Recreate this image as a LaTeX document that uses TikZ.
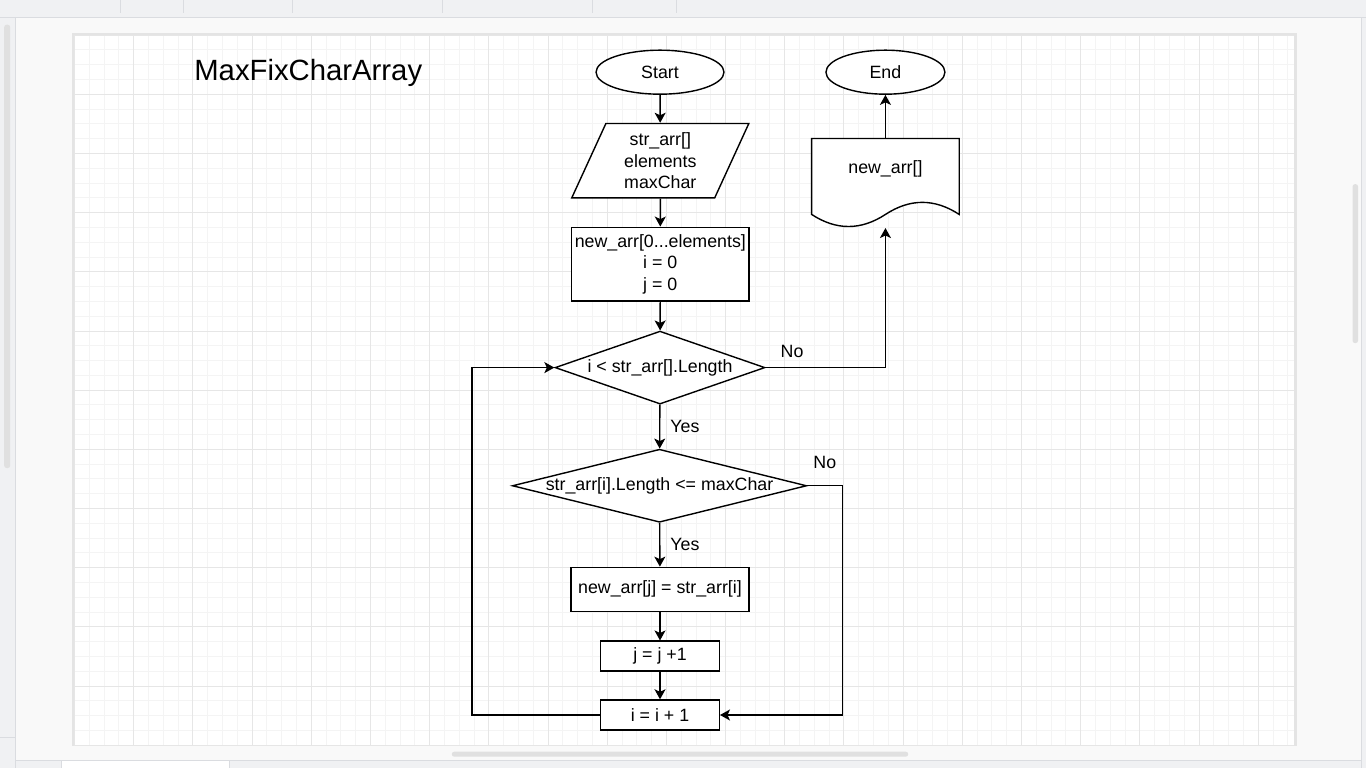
\documentclass[tikz,border=0pt]{standalone}
\usepackage{fontspec}
\setmainfont{Liberation Sans}
\usetikzlibrary{arrows.meta, positioning, shapes.geometric}

\definecolor{uibg}{HTML}{F0F1F3}
\definecolor{uiline}{HTML}{DADCE0}
\definecolor{canvasbg}{HTML}{F9F9F9}
\definecolor{scrollbar}{HTML}{E0E0E0}
\definecolor{pageshadow}{HTML}{E4E4E4}
\definecolor{minorgrid}{HTML}{F4F4F4}
\definecolor{majorgrid}{HTML}{E6E6E6}

\tikzset{larrow/.style = {-{Stealth[length=10pt,width=11pt,inset=2.5pt]}, line width=1.4pt}}
\tikzset{flow/.style = {draw, line width=1.4pt, fill=white, align=center, inner sep=0pt,
                        font=\fontsize{17.8}{21.5}\selectfont}}
\tikzset{term/.style = {flow, ellipse, minimum height=44pt}}
\tikzset{proc/.style = {flow, rectangle}}
\tikzset{cond/.style = {flow, diamond, minimum height=73pt}}
\tikzset{iobox/.style = {flow, trapezium, trapezium left angle=68, trapezium right angle=112,
                         trapezium stretches=true, minimum width=177.3pt, minimum height=74.4pt}}
\tikzset{lbl/.style = {inner sep=0pt, font=\fontsize{17.8}{21.5}\selectfont}}

\begin{document}
\begin{tikzpicture}[x=1pt,y=-1pt]
    % editor window
    \fill[uibg] (0,0) rectangle (1366,768);
    \fill[canvasbg] (16,18) rectangle (1361.5,760.5);
    \draw[uiline] (0,17.5) -- (1366,17.5);
    \draw[uiline] (15.5,17.5) -- (15.5,768);
    \draw[uiline] (1361.5,17.5) -- (1361.5,768);
    \draw[uiline] (0,737.3) -- (15.5,737.3);
    \draw[uiline] (15.5,760.5) -- (1361.5,760.5);
    \foreach \x in {120,183,292,442,592,676}
        \draw[uiline] (\x,0) -- (\x,13);
    \fill[white] (61,761) rectangle (229,768);
    \draw[uiline] (61,761) -- (61,768);
    \draw[uiline] (229,761) -- (229,768);
    \fill[scrollbar, rounded corners=2.5pt] (4,24.5) rectangle (10,468);
    \fill[scrollbar, rounded corners=2.5pt] (1352.7,184) rectangle (1358.3,343);
    \fill[scrollbar, rounded corners=2.5pt] (451.7,751.7) rectangle (908.3,756.7);

    % page with grid
    \fill[pageshadow] (71.7,33) rectangle (1297,746.5);
    \fill[white] (74.3,34.8) rectangle (1294,745);
    \foreach \i in {0,...,82}
        \draw[minorgrid, line width=0.8pt] ({74.3+14.8*\i},34.8) -- ({74.3+14.8*\i},745);
    \foreach \j in {0,...,48}
        \draw[minorgrid, line width=0.8pt] (74.3,{34.8+14.8*\j}) -- (1294,{34.8+14.8*\j});
    \foreach \i in {0,...,20}
        \draw[majorgrid, line width=0.8pt] ({74.3+59.2*\i},34.8) -- ({74.3+59.2*\i},745);
    \foreach \j in {0,...,12}
        \draw[majorgrid, line width=0.8pt] (74.3,{34.8+59.2*\j}) -- (1294,{34.8+59.2*\j});

    \node[lbl, anchor=west, font=\fontsize{29.3}{35}\selectfont] (title) at (194,73) {MaxFixCharArray};

    \node[term, minimum width=128pt] (start) at (660,72) {Start};
    \node[iobox] (in) at (660.3,160.5) {str\_arr[]\\elements\\maxChar};
    \node[proc, minimum width=177.3pt, minimum height=73.7pt] (init) at (660.3,264) {new\_arr[0...elements]\\i = 0\\j = 0};
    \node[cond, minimum width=210pt, aspect=2.88] (loop) at (660,367.5) {i < str\_arr[].Length};
    \node[cond, minimum width=294pt, aspect=4.03] (check) at (659.5,485.7) {str\_arr[i].Length <= maxChar};
    \node[proc, minimum width=177.7pt, minimum height=44pt] (copy) at (660,589.3) {new\_arr[j] = str\_arr[i]};
    \node[proc, minimum width=118.6pt, minimum height=29.7pt] (incj) at (660,656) {j = j +1};
    \node[proc, minimum width=118.6pt, minimum height=30pt] (inci) at (660,715) {i = i + 1};

    % output document
    \draw[flow] (811.7,138.3) -- (959.3,138.3) -- (959.3,214.3)
        .. controls (934.7,198.2) and (910.1,198.2) .. (885.5,214.3)
        .. controls (860.9,230.4) and (836.3,230.4) .. (811.7,214.3) -- cycle;
    \node[minimum width=147.6pt, minimum height=89.4pt, inner sep=0pt] (out) at (885.5,183) {};
    \node[lbl] (outtext) at (885.5,169) {new\_arr[]};
    \node[term, minimum width=119pt] (end) at (885.5,72) {End};

    \draw[larrow] (start) -- (in);
    \draw[larrow] (in) -- (init);
    \draw[larrow] (init) -- (loop);
    \draw[larrow] (loop) -- node[lbl, right=10pt] {Yes} (check);
    \draw[larrow] (check) -- node[lbl, right=10pt] {Yes} (copy);
    \draw[larrow] (copy) -- (incj);
    \draw[larrow] (incj) -- (inci);
    \draw[larrow] (loop.east) -| node[lbl, pos=0.11, above=9pt] {No} (out.south);
    \draw[larrow] (out.north) -- (end);
    \draw[larrow] (check.east) -- node[lbl, above=16pt] {No} ++(35,0) |- (inci.east);
    \draw[larrow] (inci.west) -- ++(-128,0) |- (loop.west);
\end{tikzpicture}
\end{document}
